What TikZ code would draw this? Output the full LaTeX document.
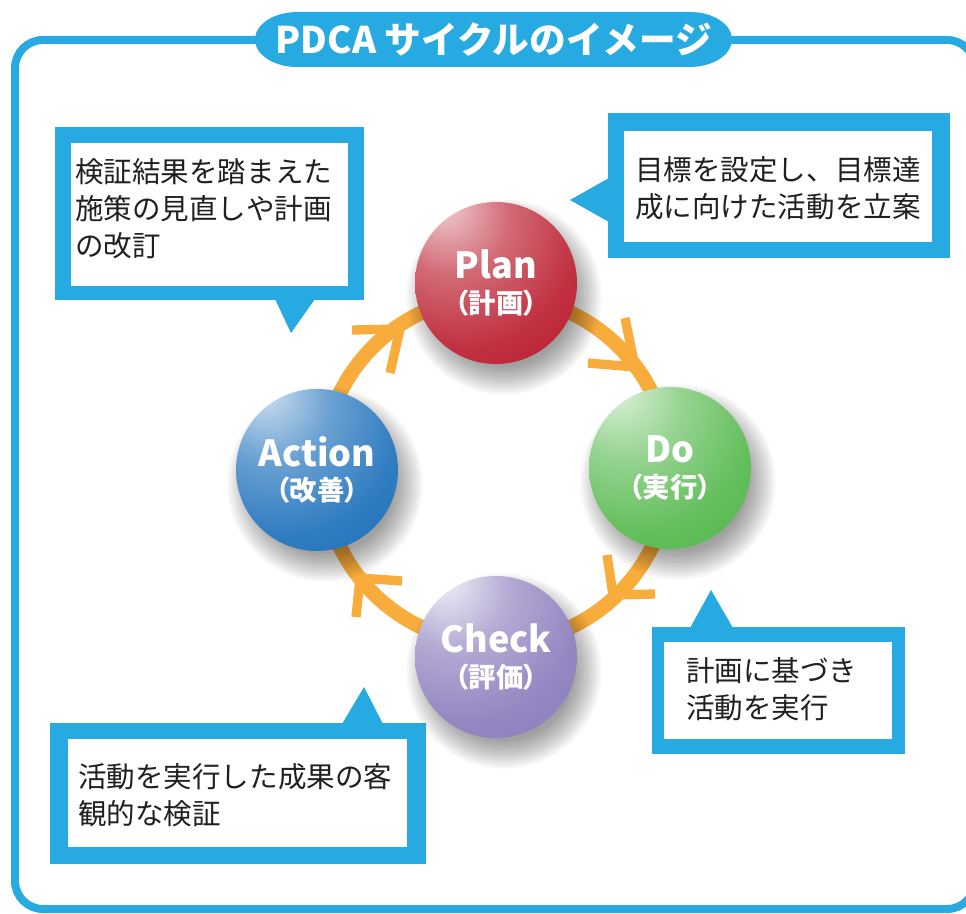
\documentclass[tikz,border=0pt]{standalone}
\usepackage{fontspec}
\newfontfamily\jp{Noto Sans CJK JP}
\newfontfamily\jpp[RawFeature=+palt]{Noto Sans CJK JP}
\definecolor{frameblue}{RGB}{39,170,225}
\definecolor{ringorange}{RGB}{248,172,60}
\definecolor{ink}{RGB}{35,31,32}
\definecolor{rimP}{RGB}{186,26,44}
\definecolor{rimD}{RGB}{78,182,70}
\definecolor{rimA}{RGB}{26,110,186}
\definecolor{rimC}{RGB}{140,124,188}
\pgfdeclareradialshading{shP}{\pgfpoint{-17bp}{25bp}}{color(0bp)=(rimP!12!white); color(4bp)=(rimP!30!white); color(18bp)=(rimP!65!white); color(36bp)=(rimP!90!white); color(52bp)=(rimP); color(75bp)=(rimP!92!black); color(100bp)=(rimP!92!black)}
\pgfdeclareradialshading{shD}{\pgfpoint{-17bp}{25bp}}{color(0bp)=(rimD!12!white); color(4bp)=(rimD!28!white); color(18bp)=(rimD!60!white); color(36bp)=(rimD!88!white); color(52bp)=(rimD); color(75bp)=(rimD!95!black); color(100bp)=(rimD!95!black)}
\pgfdeclareradialshading{shA}{\pgfpoint{-17bp}{25bp}}{color(0bp)=(rimA!12!white); color(4bp)=(rimA!30!white); color(18bp)=(rimA!65!white); color(36bp)=(rimA!90!white); color(52bp)=(rimA); color(75bp)=(rimA!93!black); color(100bp)=(rimA!93!black)}
\pgfdeclareradialshading{shC}{\pgfpoint{-17bp}{25bp}}{color(0bp)=(rimC!8!white); color(4bp)=(rimC!22!white); color(18bp)=(rimC!65!white); color(36bp)=(rimC!92!white); color(52bp)=(rimC); color(75bp)=(rimC!95!black); color(100bp)=(rimC!95!black)}
\newcommand\mainlab{\jp\bfseries\fontsize{27pt}{26pt}\selectfont}
\newcommand\sublab{\jpp\bfseries\fontsize{20.5pt}{26pt}\selectfont}
\tikzset{
  sph/.style={circle, minimum size=121.5pt, inner sep=0pt, text=white, align=center, shade,
    font=\jp\bfseries\fontsize{20.5pt}{26pt}\selectfont},
  sphshadow/.style={fill=black, opacity=0.035},
  ctext/.style={anchor=west, inner sep=0pt, align=left, text=ink, font=\jp\fontsize{21.4pt}{27.75pt}\selectfont},
  chev/.style={draw=ringorange, line width=7pt, line join=miter, line cap=butt},
  cfill/.style={fill=frameblue}
}
\begin{document}
\begin{tikzpicture}[x=0.75pt,y=-0.75pt]
\useasboundingbox (0,0) rectangle (966,913);
\fill[white] (0,0) rectangle (966,913);
% frame
\draw[frameblue, line width=6pt, rounded corners=21pt] (15,40) rectangle (975,909);
% title pill
\fill[frameblue] (297,12) -- (690,12) arc[start angle=90,end angle=-90,x radius=31.5pt,y radius=20.6pt] -- (297,67) arc[start angle=270,end angle=90,x radius=31.5pt,y radius=20.6pt] -- cycle;
\node[text=white, inner sep=0pt, font=\jp\bfseries\fontsize{27.5pt}{30pt}\selectfont] (title) at (494,40) {PDCA サイクルのイメージ};
% callout top right
\fill[cfill] (608,113) rectangle (950,258);
\fill[cfill] (609,178) -- (570,200) -- (609,222) -- cycle;
\fill[white] (624,131) rectangle (932,242);
\node[ctext] (tTR) at (635,188.5) {目標を設定し、目標達\\成に向けた活動を立案};
% callout top left
\fill[cfill] (55,127) rectangle (364,300);
\fill[cfill] (275,299) -- (291,333) -- (315,299) -- cycle;
\fill[white] (71,143) rectangle (348,286);
\node[ctext] (tTL) at (75,209) {検証結果を踏まえた\\施策の見直しや計画\\の改訂};
% callout bottom right
\fill[cfill] (652,627) rectangle (905,754);
\fill[cfill] (690,628) -- (711,590) -- (733,628) -- cycle;
\fill[white] (664,642) rectangle (892,739);
\node[ctext] (tBR) at (686,689) {計画に基づき\\活動を実行};
% callout bottom left
\fill[cfill] (50,723) rectangle (426,864);
\fill[cfill] (342,724) -- (364,687) -- (383,724) -- cycle;
\fill[white] (68,739) rectangle (407,847);
\node[ctext] (tBL) at (78,795) {活動を実行した成果の客\\観的な検証};
% ring
\coordinate (rc) at (496,470);
\draw[ringorange, line width=11pt] (rc) circle[radius=130.5pt];
\draw[chev] (588,363) -- (635,367) -- (625,318);
\draw[chev] (352,330) -- (400,329) -- (390,373);
\draw[chev] (607,555) -- (613,595) -- (655,594);
\draw[chev] (402,581) -- (360,578) -- (356,617);
% sphere centres and soft shadows
\coordinate (pP) at (496,283);
\coordinate (pD) at (670,468);
\coordinate (pA) at (317,470);
\coordinate (pC) at (496,657);
\foreach \c in {pP,pD,pA,pC}
  \foreach \r in {70,72.5,...,97.5}
    \fill[sphshadow] ([shift={(8,14)}]\c) circle[radius=\r*0.75pt];
% spheres
\node[sph, shading=shP] (plan) at (pP) {{\mainlab Plan}\\{\sublab （計画）}};
\node[sph, shading=shD] (do) at (pD) {{\mainlab Do}\\{\sublab （実行）}};
\node[sph, shading=shA] (act) at (pA) {{\mainlab Action}\\{\sublab （改善）}};
\node[sph, shading=shC] (chk) at (pC) {{\mainlab Check}\\{\sublab （評価）}};
\end{tikzpicture}
\end{document}
